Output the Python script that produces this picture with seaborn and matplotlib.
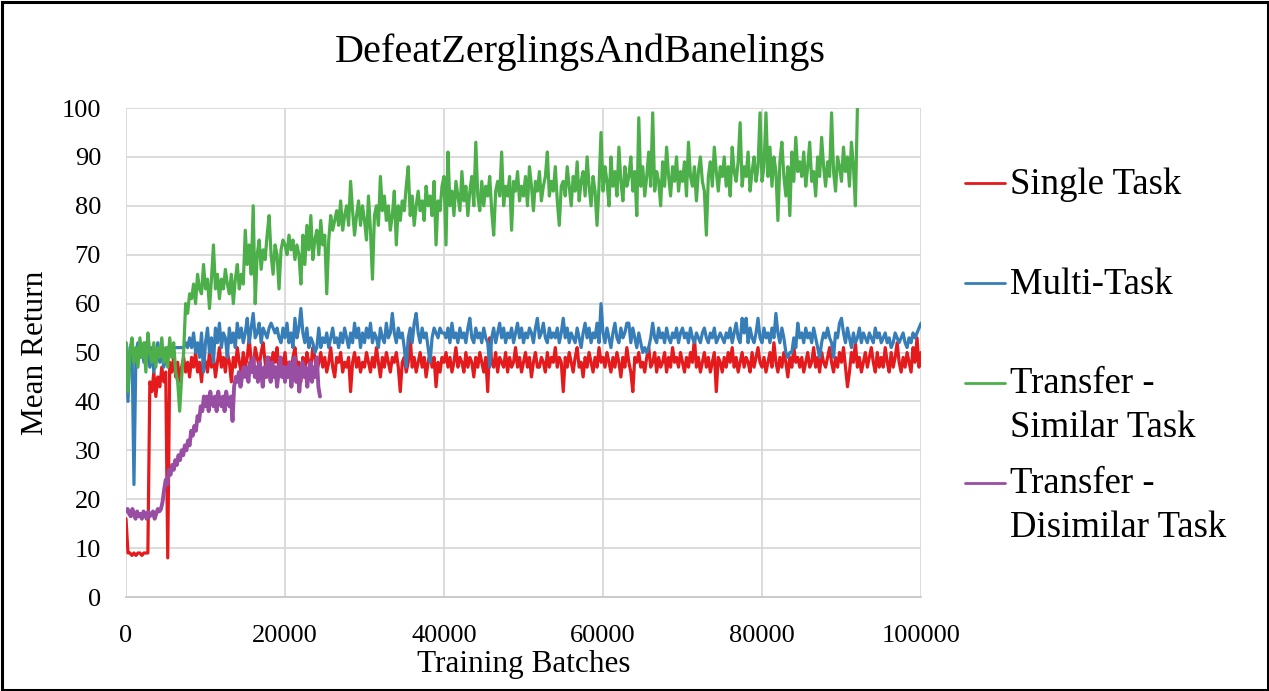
import numpy as np
import matplotlib
matplotlib.use("Agg")
import matplotlib.pyplot as plt
import seaborn as sns
from matplotlib.lines import Line2D
from matplotlib.patches import Rectangle

# ---------------- data ----------------
title = "DefeatZerglingsAndBanelings"
x_label = "Training Batches"
y_label = "Mean Return"
series_names = ["Single Task", "Multi-Task", "Transfer - Similar Task", "Transfer - Disimilar Task"]
legend_lines = [["Single Task"], ["Multi-Task"], ["Transfer -", "Similar Task"], ["Transfer -", "Disimilar Task"]]
x_ticks = [0, 20000, 40000, 60000, 80000, 100000]
x_tick_labels = ["0", "20000", "40000", "60000", "80000", "100000"]
y_ticks = [0, 10, 20, 30, 40, 50, 60, 70, 80, 90, 100]
y_tick_labels = ["0", "10", "20", "30", "40", "50", "60", "70", "80", "90", "100"]

step_main = 250      # batches between logged points (single / multi / similar)
step_dissimilar = 200

single_task = [
    16, 9, 9, 8.5, 9, 8.5, 9, 9, 8.5, 9, 9, 9, 44, 42, 46, 41, 45, 43, 47, 44,
    46, 8, 48, 46, 49, 45, 48, 44, 47, 49, 46, 48, 45, 49, 47, 50, 46, 48, 44, 49,
    48, 46, 50, 47, 49, 45, 48, 51, 47, 49, 46, 50, 48, 44, 49, 47, 51, 48, 46, 50,
    47, 49, 53, 48, 46, 51, 49, 47, 50, 52, 48, 45, 49, 47, 50, 48, 51, 46, 49, 47,
    50, 46, 48, 45, 49, 51, 47, 48, 44, 49, 46, 50, 48, 47, 51, 49, 46, 48, 50, 47,
    49, 46, 48, 51, 47, 45, 49, 48, 50, 46, 48, 47, 49, 42, 48, 50, 47, 49, 46, 48,
    47, 50, 48, 46, 49, 47, 51, 48, 45, 49, 47, 50, 48, 46, 49, 48, 50, 47, 42, 48,
    49, 46, 48, 53, 47, 49, 46, 48, 50, 47, 49, 45, 48, 50, 47, 49, 43, 48, 46, 49,
    48, 50, 47, 49, 46, 48, 51, 47, 49, 48, 46, 50, 47, 49, 48, 45, 49, 47, 50, 48,
    46, 49, 42, 53, 48, 47, 50, 46, 49, 48, 47, 50, 46, 49, 47, 48, 51, 47, 49, 46,
    48, 50, 47, 49, 45, 48, 50, 47, 47, 49, 48, 46, 50, 47, 49, 48, 51, 47, 49, 48,
    42, 49, 47, 50, 48, 46, 49, 51, 47, 48, 45, 49, 47, 50, 48, 46, 49, 47, 51, 48,
    49, 47, 50, 48, 46, 49, 47, 50, 48, 45, 49, 47, 51, 48, 46, 42, 49, 48, 50, 47,
    48, 46, 49, 51, 47, 48, 50, 46, 49, 47, 48, 50, 46, 49, 47, 51, 48, 49, 47, 50,
    48, 46, 49, 47, 50, 48, 53, 47, 49, 46, 48, 50, 47, 49, 46, 48, 50, 42, 49, 48,
    46, 49, 47, 50, 48, 51, 47, 49, 46, 48, 50, 47, 49, 48, 46, 50, 47, 49, 51, 48,
    47, 49, 46, 48, 50, 47, 52, 48, 46, 49, 47, 50, 48, 45, 49, 47, 51, 48, 49, 47,
    49, 46, 48, 50, 47, 48, 51, 47, 49, 46, 50, 48, 47, 49, 51, 48, 46, 49, 47, 50,
    48, 51, 47, 43, 46, 50, 48, 52, 47, 49, 46, 48, 50, 47, 49, 51, 48, 46, 50, 47,
    49, 47, 51, 48, 46, 50, 47, 49, 52, 48, 46, 49, 47, 50, 48, 46, 51, 48, 53, 47,
    50,
]

multi_task = [
    52, 40, 51, 52, 23, 50, 52, 49, 51, 48, 52, 50, 47, 51, 46, 49, 52, 48, 50, 47,
    49, 51, 50, 51, 51, 51, 51, 51, 51, 51, 52, 51, 53, 51, 54, 50, 52, 49, 54, 46,
    52, 55, 50, 53, 48, 55, 52, 56, 51, 54, 53, 49, 55, 52, 54, 51, 56, 53, 55, 52,
    54, 57, 52, 55, 58, 53, 54, 56, 52, 55, 54, 53, 55, 56, 55, 54, 55, 53, 52, 55,
    53, 56, 52, 54, 51, 57, 53, 55, 59, 54, 52, 55, 51, 53, 52, 50, 51, 55, 51, 53,
    52, 54, 51, 53, 55, 52, 53, 51, 54, 52, 55, 53, 51, 54, 52, 56, 53, 55, 51, 54,
    52, 55, 53, 56, 52, 54, 53, 51, 55, 53, 52, 56, 53, 54, 58, 54, 52, 55, 53, 54,
    51, 47, 53, 55, 52, 56, 58, 54, 52, 55, 53, 54, 51, 48, 53, 55, 54, 53, 55, 54,
    54, 53, 55, 52, 56, 53, 54, 52, 55, 53, 54, 52, 55, 57, 53, 52, 55, 53, 54, 52,
    55, 53, 52, 47, 53, 55, 52, 54, 56, 53, 55, 52, 54, 53, 55, 52, 54, 56, 53, 55,
    52, 54, 53, 55, 54, 52, 55, 57, 53, 54, 56, 53, 52, 55, 53, 54, 53, 55, 52, 54,
    57, 53, 55, 52, 54, 53, 52, 55, 53, 51, 54, 56, 53, 55, 52, 54, 53, 56, 52, 60,
    54, 52, 55, 53, 51, 54, 56, 53, 52, 55, 53, 54, 56, 56, 52, 55, 53, 51, 54, 52,
    50, 51, 50, 51, 53, 56, 53, 52, 55, 53, 54, 52, 55, 53, 52, 54, 53, 55, 52, 54,
    55, 53, 54, 52, 55, 53, 52, 54, 53, 52, 54, 55, 53, 52, 54, 53, 55, 52, 53, 54,
    53, 52, 54, 53, 55, 52, 54, 56, 53, 52, 57, 54, 57, 52, 55, 53, 52, 54, 57, 53,
    52, 55, 53, 54, 52, 55, 53, 58, 54, 52, 55, 53, 50, 49, 50, 50, 53, 51, 56, 53,
    54, 52, 55, 53, 54, 52, 55, 53, 51, 49, 52, 54, 53, 55, 53, 52, 49, 54, 53, 56,
    57, 54, 52, 55, 53, 51, 54, 52, 53, 55, 52, 54, 53, 52, 54, 53, 52, 55, 53, 54,
    52, 53, 54, 52, 53, 51, 52, 54, 53, 52, 53, 54, 52, 51, 53, 52, 54, 53, 54, 55,
    56,
]

transfer_similar = [
    52, 42, 50, 53, 48, 51, 47, 53, 49, 52, 46, 54, 50, 48, 52, 47, 51, 49, 53, 48,
    51, 47, 53, 49, 52, 46, 44, 38, 45, 50, 60, 58, 62, 61, 64, 60, 66, 63, 62, 68,
    63, 65, 59, 65, 72, 63, 66, 61, 65, 63, 67, 64, 62, 66, 60, 65, 68, 63, 66, 64,
    75, 68, 72, 66, 80, 60, 70, 73, 67, 71, 69, 74, 78, 70, 66, 72, 70, 63, 71, 73,
    72, 70, 74, 71, 73, 69, 72, 70, 64, 74, 68, 76, 71, 78, 69, 73, 75, 70, 77, 72,
    74, 62, 73, 78, 75, 77, 79, 76, 81, 75, 78, 80, 76, 85, 79, 74, 78, 81, 76, 80,
    77, 73, 82, 75, 65, 78, 80, 76, 86, 79, 82, 77, 80, 75, 78, 83, 72, 80, 77, 81,
    79, 84, 88, 78, 82, 76, 80, 83, 79, 81, 77, 84, 80, 82, 78, 85, 72, 81, 79, 84,
    86, 72, 91, 80, 83, 78, 85, 82, 79, 87, 81, 84, 78, 83, 86, 80, 93, 82, 79, 85,
    80, 84, 82, 86, 79, 74, 83, 85, 82, 91, 80, 84, 82, 86, 75, 85, 83, 87, 81, 84,
    82, 86, 80, 88, 84, 79, 85, 83, 87, 81, 84, 86, 91, 82, 85, 83, 88, 81, 76, 84,
    85, 82, 88, 84, 80, 86, 83, 89, 81, 85, 87, 82, 90, 84, 80, 86, 83, 76, 84, 95,
    83, 88, 85, 80, 90, 84, 87, 82, 92, 85, 81, 88, 84, 86, 90, 83, 87, 78, 98, 84,
    88, 82, 86, 91, 84, 99, 83, 87, 85, 80, 89, 84, 92, 86, 82, 88, 85, 90, 83, 87,
    85, 89, 82, 93, 86, 84, 88, 81, 87, 90, 85, 83, 74, 86, 89, 84, 92, 87, 83, 88,
    86, 90, 84, 88, 82, 92, 87, 85, 89, 97, 84, 88, 86, 91, 83, 87, 90, 85, 88, 99,
    85, 88, 99, 86, 92, 84, 90, 87, 77, 89, 93, 86, 82, 88, 78, 91, 85, 94, 87, 89,
    86, 91, 84, 88, 93, 85, 87, 82, 90, 86, 94, 88, 84, 89, 86, 99, 87, 83, 90, 88,
    85, 92, 87, 90, 84, 93, 88, 80, 100,
]

transfer_dissimilar = [
    17.5, 18, 17, 16.5, 18, 17, 16, 17.5, 16.5, 17, 16, 17.5, 17, 16, 17.5, 16.5, 17, 17.5, 16, 17, 18, 17.5, 18, 19.5, 22,
    24, 23, 26, 25, 27, 26, 28, 27, 29, 28, 30, 29, 31, 30, 32, 31, 34, 33, 35, 34, 37, 36, 39, 38, 41,
    39, 41, 38, 42, 40, 39, 41, 38, 42, 40, 39, 41, 38, 42, 40, 39, 41, 36, 43, 45, 44, 46, 43, 45, 47,
    45, 47, 44, 48, 46, 49, 45, 47, 44, 48, 46, 43, 47, 45, 49, 46, 44, 48, 45, 47, 43, 46, 49, 45, 47,
    44, 47, 45, 48, 43, 46, 49, 44, 47, 42, 46, 48, 45, 47, 43, 46, 48, 44, 47, 45, 49, 43, 41,
]

colors = ["#E41A1C", "#377EB8", "#4DAF4A", "#984EA3"]
line_widths = [2.3, 2.3, 2.3, 2.8]

# ---------------- style ----------------
sns.set_theme(style="white")
plt.rcParams["font.family"] = ["Liberation Serif", "DejaVu Serif"]

W, H = 1269, 691
fig = plt.figure(figsize=(W / 100, H / 100), dpi=100)
fig.patch.set_facecolor("white")
ax = fig.add_axes([126 / W, 1 - 597 / H, 795 / W, 489 / H])

all_series = [
    (single_task, step_main),
    (multi_task, step_main),
    (transfer_similar, step_main),
    (transfer_dissimilar, step_dissimilar),
]
for (vals, step), col, lw, name in zip(all_series, colors, line_widths, series_names):
    xs = np.arange(len(vals)) * step
    sns.lineplot(x=xs, y=np.array(vals, dtype=float), ax=ax, color=col,
                 linewidth=lw, estimator=None, errorbar=None, legend=False,
                 label=name)

ax.set_xlim(0, 100000)
ax.set_ylim(0, 100)
ax.set_xticks(x_ticks)
ax.set_xticklabels(x_tick_labels)
ax.set_yticks(y_ticks)
ax.set_yticklabels(y_tick_labels)
ax.grid(True, color="#D9D9D9", linewidth=1.3)
ax.set_axisbelow(True)
for s in ["top", "right", "left"]:
    ax.spines[s].set_visible(False)
ax.spines["bottom"].set_color("#C8C8C8")
ax.spines["bottom"].set_linewidth(1.3)
ax.tick_params(axis="both", length=0, labelsize=19, colors="black")
ax.tick_params(axis="x", pad=20)
ax.tick_params(axis="y", pad=18)

ax.set_xlabel(x_label, fontsize=22.5, color="black")
ax.xaxis.set_label_coords(0.5, -0.108)
ax.set_ylabel(y_label, fontsize=22.5, color="black")
ax.yaxis.set_label_coords(-0.096, 0.5)

fig.text(580 / W, 1 - 62 / H, title, ha="center", va="baseline", fontsize=29, color="black")

# legend (Excel style, handle aligned with first text line)
handle_y = [183, 283, 383, 483]
text_baselines = [[194], [294], [393, 437], [493, 537]]
for col, lines, hy, bls in zip(colors, legend_lines, handle_y, text_baselines):
    fig.add_artist(Line2D([965 / W, 1005 / W], [1 - hy / H, 1 - hy / H],
                          transform=fig.transFigure, color=col, linewidth=2.0))
    for line, bl in zip(lines, bls):
        fig.text(1010 / W, 1 - bl / H, line, ha="left", va="baseline", fontsize=26.5, color="black")

fig.add_artist(Rectangle((1.5 / W, 1.5 / H), 1 - 3 / W, 1 - 3 / H, transform=fig.transFigure,
                         fill=False, edgecolor="black", linewidth=2.2))

fig.savefig("out.png", dpi=100)
